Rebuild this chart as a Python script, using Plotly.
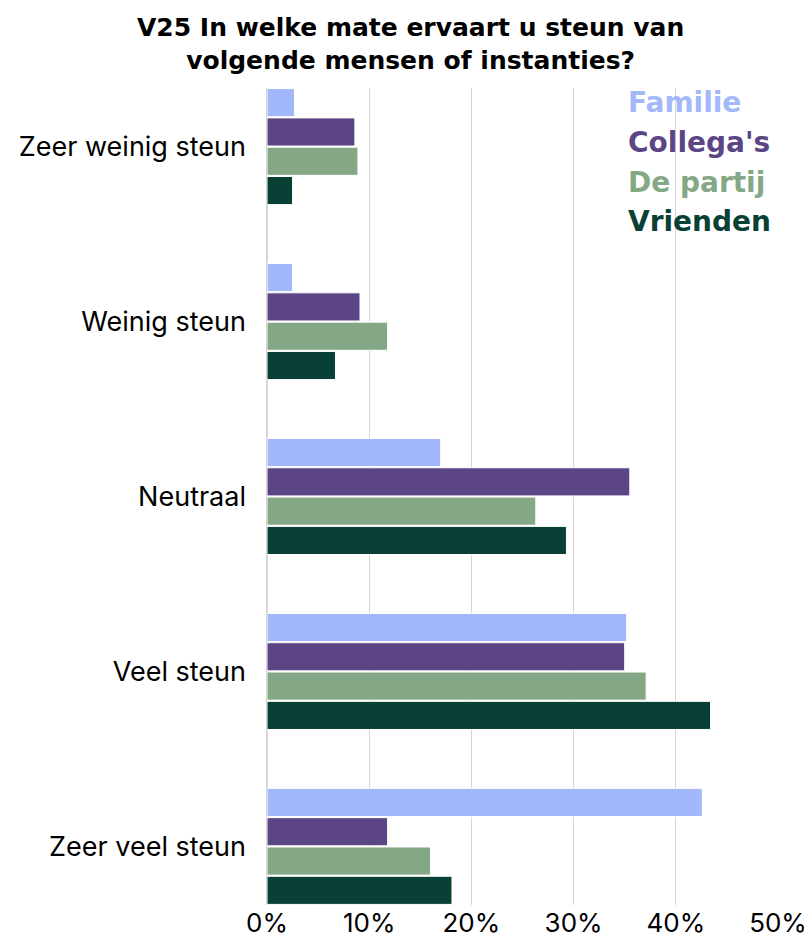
import plotly.graph_objects as go

categories = ["Zeer weinig steun", "Weinig steun", "Neutraal", "Veel steun", "Zeer veel steun"]
series_names = ["Familie", "Collega's", "De partij", "Vrienden"]
familie = [2.7, 2.5, 17.0, 35.2, 42.6]
collegas = [8.6, 9.1, 35.5, 35.0, 11.8]
partij = [8.9, 11.8, 26.3, 37.1, 16.0]
vrienden = [2.5, 6.7, 29.3, 43.4, 18.1]
colors = ["#a3b8fb", "#5c4584", "#84a785", "#084035"]
x_ticks = [0, 10, 20, 30, 40, 50]
title_lines = ["V25 In welke mate ervaart u steun van", "volgende mensen of instanties?"]

fig = go.Figure()
for name, values, color in zip(series_names, [familie, collegas, partij, vrienden], colors):
    fig.add_trace(
        go.Bar(
            y=categories,
            x=values,
            name=name,
            orientation="h",
            marker=dict(color=color, line=dict(color="white", width=1)),
            hovertemplate="%{y}: %{x:.1f}%<extra>" + name + "</extra>",
        )
    )

# title as annotation (multi-line titles get clipped otherwise)
fig.add_annotation(
    text="<br>".join(title_lines),
    xref="paper",
    yref="paper",
    x=0.28,
    y=1.054,
    xanchor="center",
    yanchor="middle",
    showarrow=False,
    font=dict(family="DejaVu Sans", size=25, color="black", weight="bold"),
)

# legend as coloured text, top right
for i, (name, color) in enumerate(zip(series_names, colors)):
    fig.add_annotation(
        text=name,
        xref="paper",
        yref="paper",
        x=0.703,
        y=0.982 - i * 0.0486,
        xanchor="left",
        yanchor="middle",
        showarrow=False,
        font=dict(family="DejaVu Sans", size=28, color=color, weight="bold"),
    )

# page body has an 8px margin, so the figure is 8px smaller
fig.update_layout(
    width=804,
    height=935,
    barmode="group",
    bargap=0.33,
    bargroupgap=0.04,
    showlegend=False,
    plot_bgcolor="white",
    paper_bgcolor="white",
    margin=dict(l=259, r=34, t=80, b=38),
    font=dict(family="Inter", size=26, color="black"),
)
fig.update_xaxes(
    range=[0, 50],
    tickvals=x_ticks,
    ticktext=[f"{v}%" for v in x_ticks],
    showgrid=True,
    gridcolor="#d6d6d6",
    gridwidth=1,
    zeroline=True,
    zerolinecolor="#d6d6d6",
    tickfont=dict(family="Inter", size=26, color="black"),
    ticks="",
    automargin=False,
)
fig.update_yaxes(
    range=[len(categories) - 1 + 0.335, -0.335],
    tickfont=dict(family="Inter", size=27, color="black"),
    ticks="",
    ticklabelstandoff=20,
    automargin=False,
)

fig.write_html("out.html")
